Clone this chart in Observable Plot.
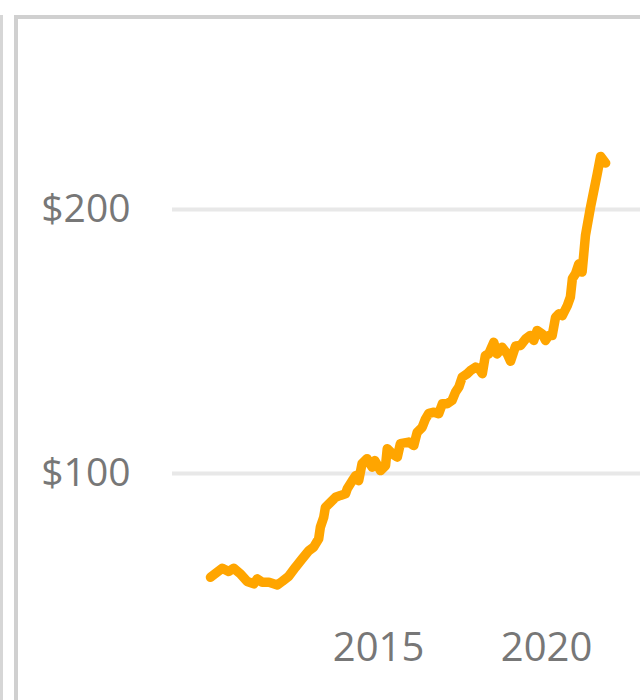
<!DOCTYPE html>
<html>
<head>
<meta charset="utf-8">
<script src="https://cdn.jsdelivr.net/npm/d3@7"></script>
<script src="https://cdn.jsdelivr.net/npm/@observablehq/plot@0.6"></script>
<style>
  html, body { margin: 0; padding: 0; background: #fff; }
  #wrap { position: relative; width: 640px; height: 700px; overflow: hidden; font-family: "Open Sans", sans-serif; }
  #wrap svg { position: absolute; left: 0; top: 0; }
  .edge { position: absolute; left: 0; top: 15px; width: 3px; height: 685px; background: #d6d6d6; }
  .card { position: absolute; left: 14px; top: 15px; width: 640px; height: 700px; border-left: 4px solid #d0d0d0; border-top: 4px solid #d0d0d0; box-sizing: border-box; }
</style>
</head>
<body>
<div id="wrap">
  <div class="edge"></div>
  <div class="card"></div>
</div>
<script>
// Decimal year of each reading
const years = [
  2010.00, 2010.35, 2010.54, 2010.69, 2010.89, 2011.09, 2011.29, 2011.39, 2011.54, 2011.74,
  2011.99, 2012.13, 2012.33, 2012.53, 2012.73, 2012.93, 2013.07, 2013.22, 2013.27, 2013.37,
  2013.42, 2013.57, 2013.72, 2013.87, 2014.02, 2014.07, 2014.22, 2014.32, 2014.41, 2014.51,
  2014.66, 2014.81, 2014.89, 2015.06, 2015.21, 2015.26, 2015.41, 2015.56, 2015.65, 2015.90,
  2016.05, 2016.15, 2016.30, 2016.40, 2016.50, 2016.65, 2016.79, 2016.90, 2017.04, 2017.19,
  2017.29, 2017.39, 2017.49, 2017.64, 2017.74, 2017.89, 2017.99, 2018.09, 2018.18, 2018.28,
  2018.43, 2018.53, 2018.68, 2018.83, 2018.93, 2019.08, 2019.23, 2019.38, 2019.52, 2019.62,
  2019.72, 2019.87, 2019.97, 2020.07, 2020.17, 2020.27, 2020.37, 2020.47, 2020.62, 2020.71,
  2020.77, 2020.86, 2020.96, 2021.06, 2021.11, 2021.16, 2021.31, 2021.41, 2021.51, 2021.61,
  2021.76
];
// Price in dollars
const prices = [
  60.7, 64.1, 62.9, 64.1, 62.0, 59.1, 58.2, 60.1, 58.8, 58.8,
  57.8, 59.1, 61.1, 64.5, 67.7, 70.8, 72.1, 75.3, 79.7, 83.4,
  87.2, 89.1, 91.0, 91.7, 92.3, 94.2, 97.3, 99.2, 97.3, 103.7,
  105.6, 102.4, 104.9, 101.1, 103.0, 109.4, 107.5, 106.2, 111.3, 111.9,
  110.6, 115.6, 117.5, 120.7, 122.8, 123.2, 122.6, 126.4, 126.4, 127.7,
  130.8, 132.7, 136.5, 137.8, 139.0, 140.3, 139.7, 137.8, 144.7, 145.3,
  149.7, 145.3, 147.8, 145.3, 142.5, 148.3, 148.5, 151.0, 152.3, 150.4,
  154.2, 152.9, 150.4, 152.3, 152.3, 159.2, 160.5, 159.8, 163.6, 166.8,
  173.8, 175.6, 179.4, 176.3, 183.2, 190.2, 200.9, 207.2, 213.5, 220.1,
  217.6
];
const xTicks = [2015, 2020];
const yTicks = [100, 200];

const data = years.map((y, i) => ({year: y, price: prices[i]}));

const chart = Plot.plot({
  width: 640,
  height: 700,
  marginLeft: 172,
  marginRight: 0,
  marginTop: 0,
  marginBottom: 80,
  style: {fontFamily: "'Open Sans', sans-serif", background: "transparent", overflow: "visible"},
  x: {type: "linear", domain: [2010, 2020], range: [210, 546]},
  y: {type: "linear", domain: [100, 200], range: [473, 209]},
  marks: [
    Plot.ruleY(yTicks, {stroke: "#e8e8e8", strokeWidth: 4}),
    Plot.axisY({ticks: yTicks, tickSize: 0, tickPadding: 42, tickFormat: d => "$" + d, fontSize: 39, fill: "#777", label: null}),
    Plot.axisX({ticks: xTicks, tickSize: 0, tickPadding: 12, tickFormat: d => String(d), fontSize: 40, fill: "#777", label: null}),
    Plot.line(data, {x: "year", y: "price", stroke: "#FFA500", strokeWidth: 9.5, strokeLinejoin: "round", strokeLinecap: "round", curve: "linear"})
  ]
});
document.getElementById("wrap").appendChild(chart);
</script>
</body>
</html>
